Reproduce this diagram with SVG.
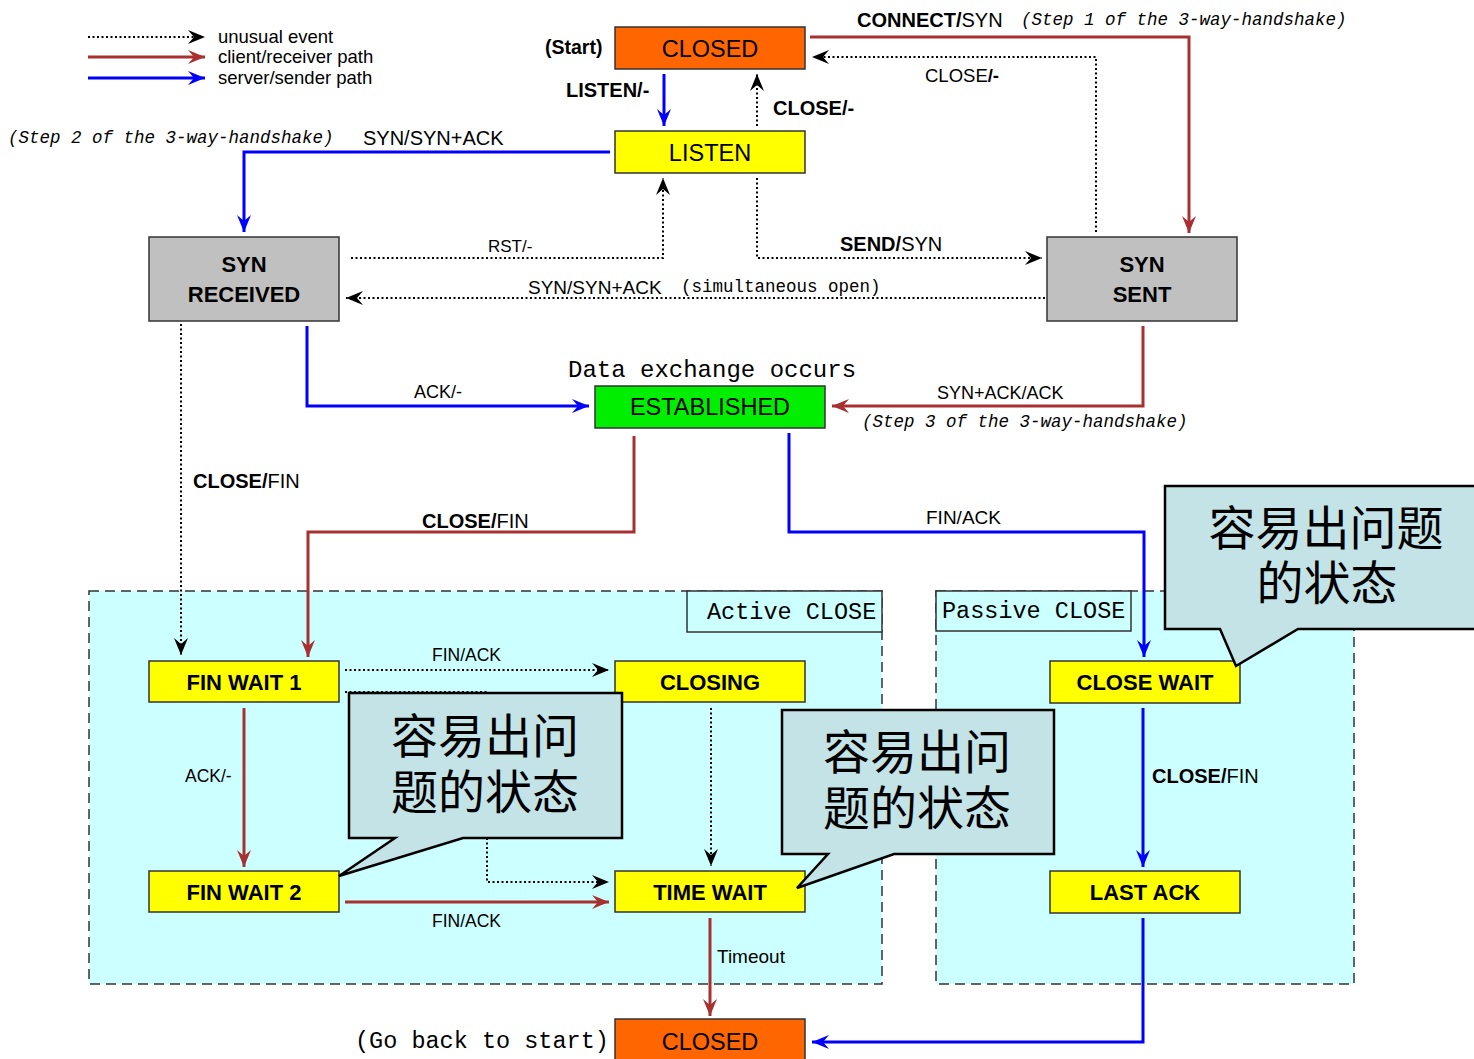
<svg xmlns="http://www.w3.org/2000/svg" width="1474" height="1059" viewBox="0 0 1474 1059">
<style>
.node rect{stroke:#333;stroke-width:1.5}
.nt{font-family:"Liberation Sans",Arial,sans-serif;font-weight:bold;font-size:22px;text-anchor:middle;fill:#000}
.nr{font-weight:normal;font-size:23.5px}
.lb{font-family:"Liberation Sans",Arial,sans-serif;fill:#000}
.b{font-weight:bold}
.mono{font-family:"Liberation Mono","DejaVu Sans Mono",monospace;fill:#000}
.it{font-style:italic}
.red{stroke:#a83030;stroke-width:3;fill:none;marker-end:url(#mr)}
.blue{stroke:#0000ff;stroke-width:3;fill:none;marker-end:url(#mb)}
.dot{stroke:#000;stroke-width:2;stroke-dasharray:2 2.5;fill:none}
.dota{marker-end:url(#mk)}
.cont{fill:#ccffff;stroke:#333;stroke-width:1.5;stroke-dasharray:10 6}
.clab{fill:#ccffff;stroke:#333;stroke-width:1.5}
.call{fill:#c4e3e6;stroke:#000;stroke-width:2.5;stroke-linejoin:miter}
.cjk{font-family:"Liberation Sans","Noto Sans CJK SC",sans-serif;font-size:47px;text-anchor:middle;fill:#000}
</style>
<defs>
<marker id="mk" markerUnits="userSpaceOnUse" orient="auto" overflow="visible" markerWidth="20" markerHeight="20"><path d="M0,0 L-17,-7 L-11,0 L-17,7 Z" fill="#000"/></marker>
<marker id="mr" markerUnits="userSpaceOnUse" orient="auto" overflow="visible" markerWidth="20" markerHeight="20"><path d="M0,0 L-17,-7 L-11,0 L-17,7 Z" fill="#a83030"/></marker>
<marker id="mb" markerUnits="userSpaceOnUse" orient="auto" overflow="visible" markerWidth="20" markerHeight="20"><path d="M0,0 L-17,-7 L-11,0 L-17,7 Z" fill="#0000ff"/></marker>
</defs>
<rect width="1474" height="1059" fill="#fff"/>

<g id="active-close">
<rect class="cont" x="89" y="591" width="793" height="393"/>
<rect class="clab" x="687" y="591" width="195" height="41"/>
<text class="mono" x="707" y="619" font-size="23.5">Active CLOSE</text>
</g>
<g id="passive-close">
<rect class="cont" x="936" y="591" width="418" height="393"/>
<rect class="clab" x="936" y="591" width="195" height="40"/>
<text class="mono" x="942" y="618" font-size="23.5">Passive CLOSE</text>
</g>

<g id="legend">
<path class="dot dota" d="M88,37 H205"/>
<path class="red" d="M88,57 H205"/>
<path class="blue" d="M88,78 H205"/>
<text class="lb" x="218" y="43" font-size="18.5">unusual event</text>
<text class="lb" x="218" y="63" font-size="18.5">client/receiver path</text>
<text class="lb" x="218" y="84" font-size="18.5">server/sender path</text>
</g>

<g id="connectors">
<path class="red" d="M810,37 H1189 V233"/>
<path class="dot dota" d="M1096,232 V57 H812"/>
<path class="blue" d="M664,74 V126"/>
<path class="dot dota" d="M757,126 V74"/>
<path class="blue" d="M610,152 H244 V232"/>
<path class="dot dota" d="M351,258 H663 V178"/>
<path class="dot dota" d="M757,178 V258 H1042"/>
<path class="dot dota" d="M1045,298 H346"/>
<path class="blue" d="M307,326 V406 H589"/>
<path class="red" d="M1143,326 V406 H832"/>
<path class="dot dota" d="M181,324 V655"/>
<path class="red" d="M634,436 V532 H308 V657"/>
<path class="blue" d="M789,433 V532 H1144 V657"/>
<path class="dot dota" d="M345,670 H609"/>
<path class="dot dota" d="M345,692 H487 V882 H609"/>
<path class="dot dota" d="M711,708 V866"/>
<path class="red" d="M244,708 V867"/>
<path class="red" d="M345,902 H609"/>
<path class="red" d="M710,918 V1016"/>
<path class="blue" d="M1143,708 V867"/>
<path class="blue" d="M1143,918 V1042 H812"/>

<text class="lb" x="857" y="27" font-size="20"><tspan class="b">CONNECT/</tspan>SYN</text>
<text class="mono it" x="1021" y="25" font-size="17.5">(Step 1 of the 3-way-handshake)</text>
<text class="lb" x="925" y="82" font-size="18.5">CLOSE<tspan class="b">/-</tspan></text>
<text class="lb b" x="566" y="97" font-size="20">LISTEN/-</text>
<text class="lb b" x="773" y="115" font-size="20">CLOSE/-</text>
<text class="lb b" x="545" y="54" font-size="19.5">(Start)</text>
<text class="mono it" x="8" y="143" font-size="17.5">(Step 2 of the 3-way-handshake)</text>
<text class="lb" x="363" y="145" font-size="20">SYN/SYN+ACK</text>
<text class="lb" x="488" y="252" font-size="17">RST/-</text>
<text class="lb" x="840" y="251" font-size="20"><tspan class="b">SEND/</tspan>SYN</text>
<text class="lb" x="528" y="294" font-size="19">SYN/SYN+ACK</text>
<text class="mono" x="681" y="292" font-size="17.5">(simultaneous open)</text>
<text class="mono" x="568" y="377" font-size="24">Data exchange occurs</text>
<text class="lb" x="414" y="398" font-size="18">ACK/-</text>
<text class="lb" x="937" y="399" font-size="18">SYN+ACK/ACK</text>
<text class="mono it" x="862" y="427" font-size="17.5">(Step 3 of the 3-way-handshake)</text>
<text class="lb" x="193" y="488" font-size="20"><tspan class="b">CLOSE/</tspan>FIN</text>
<text class="lb" x="422" y="528" font-size="20"><tspan class="b">CLOSE/</tspan>FIN</text>
<text class="lb" x="926" y="524" font-size="19">FIN/ACK</text>
<text class="lb" x="432" y="661" font-size="17.5">FIN/ACK</text>
<text class="lb" x="185" y="782" font-size="17.5">ACK/-</text>
<text class="lb" x="432" y="927" font-size="17.5">FIN/ACK</text>
<text class="lb" x="717" y="963" font-size="19">Timeout</text>
<text class="lb" x="1152" y="783" font-size="20"><tspan class="b">CLOSE/</tspan>FIN</text>
<text class="mono" x="355" y="1048" font-size="23.5">(Go back to start)</text>
</g>

<g id="closed-top" class="node"><rect x="615" y="27" width="190" height="42" fill="#ff6600"/><text class="nt nr" x="710" y="57">CLOSED</text></g>
<g id="listen" class="node"><rect x="615" y="131" width="190" height="42" fill="#ffff00"/><text class="nt nr" x="710" y="161">LISTEN</text></g>
<g id="syn-received" class="node"><rect x="149" y="237" width="190" height="84" fill="#c0c0c0"/><text class="nt" x="244" y="272">SYN</text><text class="nt" x="244" y="302">RECEIVED</text></g>
<g id="syn-sent" class="node"><rect x="1047" y="237" width="190" height="84" fill="#c0c0c0"/><text class="nt" x="1142" y="272">SYN</text><text class="nt" x="1142" y="302">SENT</text></g>
<g id="established" class="node"><rect x="595" y="386" width="230" height="42" fill="#00ee00"/><text class="nt nr" x="710" y="415">ESTABLISHED</text></g>
<g id="fin-wait-1" class="node"><rect x="149" y="661" width="190" height="41" fill="#ffff00"/><text class="nt" x="244" y="690">FIN WAIT 1</text></g>
<g id="closing" class="node"><rect x="615" y="661" width="190" height="41" fill="#ffff00"/><text class="nt" x="710" y="690">CLOSING</text></g>
<g id="fin-wait-2" class="node"><rect x="149" y="871" width="190" height="41" fill="#ffff00"/><text class="nt" x="244" y="900">FIN WAIT 2</text></g>
<g id="time-wait" class="node"><rect x="615" y="871" width="190" height="41" fill="#ffff00"/><text class="nt" x="710" y="900">TIME WAIT</text></g>
<g id="close-wait" class="node"><rect x="1050" y="661" width="190" height="42" fill="#ffff00"/><text class="nt" x="1145" y="690">CLOSE WAIT</text></g>
<g id="last-ack" class="node"><rect x="1050" y="871" width="190" height="42" fill="#ffff00"/><text class="nt" x="1145" y="900">LAST ACK</text></g>
<g id="closed-bottom" class="node"><rect x="615" y="1019" width="190" height="45" fill="#ff6600"/><text class="nt nr" x="710" y="1050">CLOSED</text></g>

<g id="callout-1">
<path class="call" d="M349,693 H622 V838 H463 L339,876 L395,838 H349 Z"/>
<text class="cjk" x="485" y="753">容易出问<tspan x="485" dy="56">题的状态</tspan></text>
</g>
<g id="callout-2">
<path class="call" d="M782,710 H1054 V854 H894 L797,888 L828,854 H782 Z"/>
<text class="cjk" x="917" y="769">容易出问<tspan x="917" dy="56">题的状态</tspan></text>
</g>
<g id="callout-3">
<path class="call" d="M1165,486 H1480 V629 H1298 L1236,666 L1220,629 H1165 Z"/>
<text class="cjk" x="1326" y="545">容易出问题<tspan x="1327" dy="55">的状态</tspan></text>
</g>
</svg>
